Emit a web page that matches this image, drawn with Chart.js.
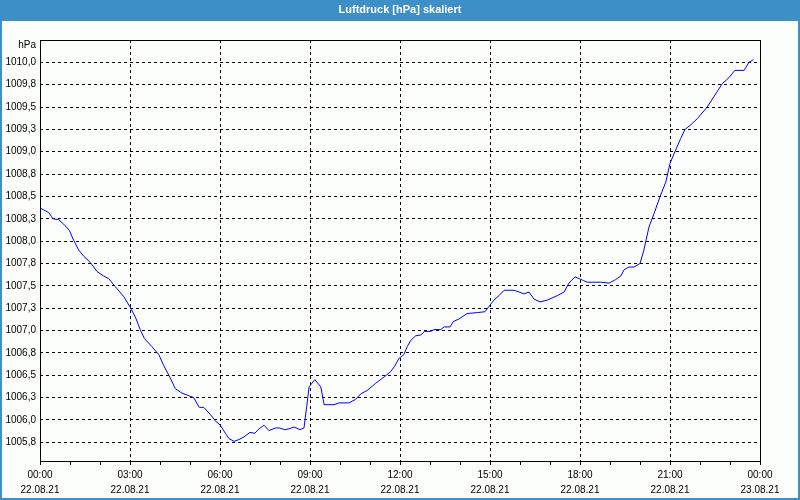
<!DOCTYPE html>
<html>
<head>
<meta charset="utf-8">
<script src="https://cdn.jsdelivr.net/npm/chart.js@4/dist/chart.umd.min.js"></script>
<style>
  html, body { margin: 0; padding: 0; background: #ffffff; }
  canvas { display: block; }
</style>
</head>
<body>
<canvas id="c" width="800" height="500"></canvas>
<script>
const titleText = 'Luftdruck [hPa] skaliert';
const unitLabel = 'hPa';

// time of each sample in hours since 22.08.21 00:00
const hours = [0.00,0.12,0.29,0.43,0.62,0.79,0.98,1.12,1.29,1.46,1.68,1.90,2.12,2.29,2.51,2.79,2.99,3.18,3.34,3.48,3.73,3.96,4.12,4.34,4.51,4.73,4.96,5.12,5.31,5.46,5.68,5.84,6.01,6.18,6.30,6.47,6.63,6.80,7.00,7.16,7.30,7.47,7.63,7.86,7.97,8.16,8.30,8.47,8.67,8.80,8.89,8.97,9.16,9.36,9.47,9.80,9.97,10.30,10.52,10.69,10.91,11.19,11.47,11.69,11.82,11.97,12.13,12.24,12.36,12.52,12.69,12.82,13.02,13.13,13.36,13.47,13.67,13.78,13.97,14.24,14.58,14.83,14.97,15.13,15.30,15.47,15.80,15.97,16.13,16.30,16.47,16.67,16.91,17.24,17.47,17.63,17.83,17.97,18.11,18.24,18.69,18.97,19.19,19.36,19.47,19.63,19.80,20.00,20.13,20.30,20.47,20.67,20.86,21.00,21.19,21.36,21.50,21.69,21.91,22.24,22.47,22.74,22.97,23.16,23.47,23.63,23.78];

// air pressure in hPa
const pressure = [1008.37,1008.35,1008.32,1008.25,1008.24,1008.19,1008.12,1008.01,1007.90,1007.83,1007.76,1007.66,1007.61,1007.58,1007.49,1007.38,1007.27,1007.15,1007.01,1006.91,1006.82,1006.73,1006.61,1006.47,1006.35,1006.30,1006.27,1006.25,1006.14,1006.14,1006.06,1005.99,1005.94,1005.85,1005.79,1005.76,1005.78,1005.81,1005.86,1005.85,1005.90,1005.94,1005.88,1005.91,1005.91,1005.89,1005.90,1005.92,1005.89,1005.91,1006.15,1006.37,1006.45,1006.37,1006.17,1006.17,1006.19,1006.19,1006.23,1006.29,1006.33,1006.41,1006.48,1006.54,1006.60,1006.69,1006.73,1006.82,1006.89,1006.94,1006.95,1006.99,1006.99,1007.01,1007.01,1007.04,1007.04,1007.10,1007.13,1007.19,1007.20,1007.21,1007.27,1007.34,1007.39,1007.45,1007.45,1007.43,1007.41,1007.43,1007.35,1007.32,1007.34,1007.39,1007.43,1007.53,1007.60,1007.58,1007.56,1007.54,1007.54,1007.53,1007.57,1007.61,1007.68,1007.71,1007.71,1007.75,1007.90,1008.16,1008.31,1008.50,1008.66,1008.87,1009.02,1009.15,1009.25,1009.30,1009.37,1009.50,1009.62,1009.76,1009.83,1009.91,1009.91,1010.00,1010.03];

// y axis ticks
const yTickValues = [1005.75,1006.0,1006.25,1006.5,1006.75,1007.0,1007.25,1007.5,1007.75,1008.0,1008.25,1008.5,1008.75,1009.0,1009.25,1009.5,1009.75,1010.0];
const yTickLabels = ['1005,8','1006,0','1006,3','1006,5','1006,8','1007,0','1007,3','1007,5','1007,8','1008,0','1008,3','1008,5','1008,8','1009,0','1009,3','1009,5','1009,8','1010,0'];
const yMin = 1005.54, yMax = 1010.25;

// x axis ticks (hours)
const xTickHours = [0,3,6,9,12,15,18,21,24];
const xTickTimes = ['00:00','03:00','06:00','09:00','12:00','15:00','18:00','21:00','00:00'];
const xTickDates = ['22.08.21','22.08.21','22.08.21','22.08.21','22.08.21','22.08.21','22.08.21','22.08.21','23.08.21'];

const BLUE = '#3d8fc7';

const framePlugin = {
  id: 'frame',
  beforeDraw(chart) {
    const ctx = chart.ctx;
    ctx.save();
    ctx.fillStyle = BLUE;
    ctx.fillRect(0, 0, 800, 500);
    ctx.fillStyle = '#fcfefc';
    ctx.fillRect(2, 21, 796, 477);
    ctx.fillStyle = '#ffffff';
    ctx.font = 'bold 11px "Liberation Sans", sans-serif';
    ctx.textAlign = 'center';
    ctx.textBaseline = 'middle';
    ctx.fillText(titleText, 400, 10);
    ctx.restore();
  },
  afterDraw(chart) {
    const ctx = chart.ctx;
    const a = chart.chartArea;
    ctx.save();
    ctx.strokeStyle = '#000';
    ctx.lineWidth = 1;
    ctx.setLineDash([]);
    ctx.strokeRect(Math.round(a.left) + 0.5, Math.round(a.top) + 0.5, Math.round(a.right - a.left), Math.round(a.bottom - a.top));
    ctx.fillStyle = '#000';
    ctx.font = '10px "Liberation Sans", sans-serif';
    ctx.textAlign = 'right';
    ctx.textBaseline = 'middle';
    ctx.fillText(unitLabel, a.left - 4, a.top + 5);
    ctx.restore();
  }
};

Chart.defaults.font.family = '"Liberation Sans", sans-serif';
Chart.defaults.font.size = 10;
Chart.defaults.color = '#000';

new Chart(document.getElementById('c'), {
  type: 'line',
  data: {
    datasets: [{
      data: hours.map((h, i) => ({ x: h, y: pressure[i] })),
      borderColor: '#0000ff',
      borderWidth: 1,
      pointRadius: 0,
      tension: 0,
      fill: false
    }]
  },
  options: {
    responsive: false,
    animation: false,
    devicePixelRatio: 1,
    layout: { padding: { top: 40, right: 40, bottom: 0, left: 0 } },
    plugins: { legend: { display: false }, title: { display: false }, tooltip: { enabled: false } },
    scales: {
      x: {
        type: 'linear',
        min: 0, max: 24,
        afterFit(s) { s.height = 39; },
        ticks: {
          stepSize: 1,
          autoSkip: false,
          maxRotation: 0,
          padding: 3,
          font: { size: 10, lineHeight: 1.5 },
          callback(v) {
            const i = xTickHours.indexOf(v);
            return i >= 0 ? [xTickTimes[i], xTickDates[i]] : '';
          }
        },
        grid: {
          color(ctx) {
            const v = ctx.tick && ctx.tick.value;
            return (v % 3 === 0 && v !== 0 && v !== 24) ? '#000' : 'rgba(0,0,0,0)';
          },
          tickColor: '#000',
          tickLength: 4,
          lineWidth: 1,
          borderDash: [3, 3]
        },
        border: { display: false, dash: [3, 3] }
      },
      y: {
        type: 'linear',
        min: yMin, max: yMax,
        afterFit(s) { s.width = 40; },
        afterBuildTicks(s) { s.ticks = yTickValues.map(v => ({ value: v })); },
        ticks: {
          padding: 4,
          autoSkip: false,
          callback(v) {
            const i = yTickValues.indexOf(v);
            return i >= 0 ? yTickLabels[i] : '';
          }
        },
        grid: {
          color: '#000',
          drawTicks: false,
          lineWidth: 1,
          borderDash: [3, 3]
        },
        border: { display: false, dash: [3, 3] }
      }
    }
  },
  plugins: [framePlugin]
});
</script>
</body>
</html>
